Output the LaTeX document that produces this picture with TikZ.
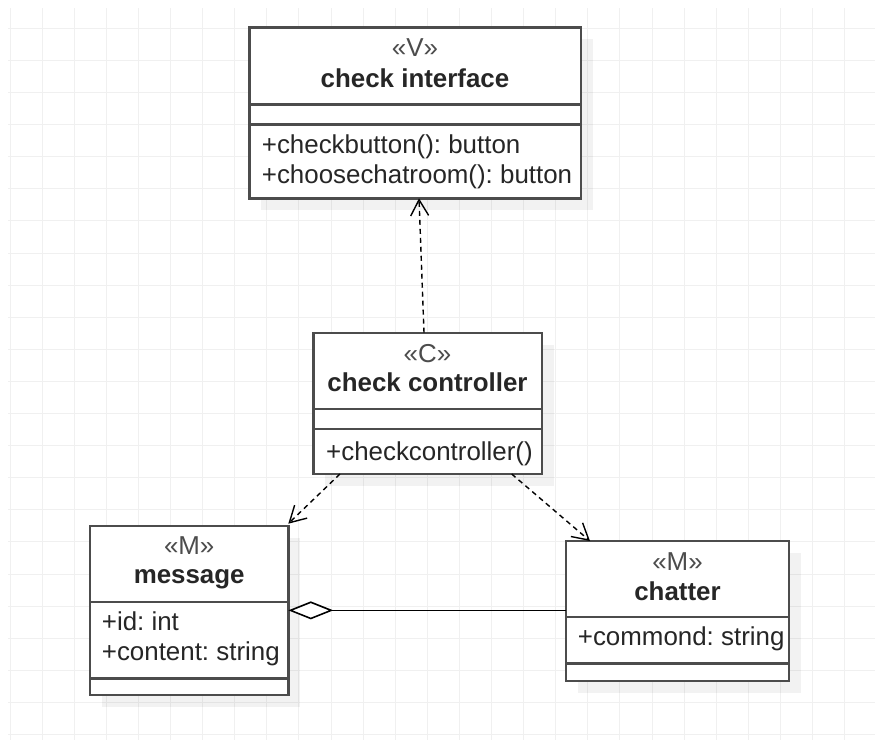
\documentclass[tikz,border=0pt]{standalone}
\usepackage{fontspec}
\setmainfont{Liberation Sans}
\usetikzlibrary{arrows.meta}
\frenchspacing
\begin{document}
\begin{tikzpicture}[x=1pt,y=-1pt,
  gridline/.style={draw=black!6, line width=1pt},
  boxline/.style={draw=black!70, line width=2.4pt},
  umlbox/.style={boxline, fill=white, rectangle, inner sep=0pt, outer sep=0pt, anchor=north west},
  shadowbox/.style={fill=black, opacity=0.05},
  txt/.style={font=\fontsize{25.9}{30}\selectfont\frenchspacing, text=black!85, inner sep=0pt},
  stereo/.style={txt, text=black!70, anchor=base},
  ttl/.style={txt, font=\fontsize{25.9}{30}\selectfont\bfseries, anchor=base},
  attr/.style={txt, anchor=base west},
  depend/.style={draw=black, line width=1.4pt, dash pattern=on 5pt off 4pt, -{Straight Barb[length=16pt,width=18pt,line width=1.4pt]}},
  aggreg/.style={draw=black, line width=1.6pt, -{Diamond[length=45pt,width=18pt,fill=white,line width=1.6pt]}}
]
\useasboundingbox (0,0) rectangle (875,740);
\fill[white] (0,0) rectangle (875,740);
% grid
\foreach \i in {0,...,26} {\draw[gridline] ({10+32.1*\i},8) -- ({10+32.1*\i},740);}
\foreach \k in {0,...,22} {\draw[gridline] (8,{28.3+32.1*\k}) -- (875,{28.3+32.1*\k});}

% shadows
\fill[shadowbox] (261.3,39.3) rectangle (592.7,210.3);
\fill[shadowbox] (325.3,344.7) rectangle (553.7,486);
\fill[shadowbox] (102,537.7) rectangle (300.3,707);
\fill[shadowbox] (578,553) rectangle (801,693);

% boxes
\node[umlbox, minimum width=331.4pt, minimum height=171pt] (top) at (249.3,27.3) {};
\draw[boxline] (top.west |- 0,104.3) -- (top.east |- 0,104.3);
\draw[boxline] (top.west |- 0,124.3) -- (top.east |- 0,124.3);
\node[stereo] (topst) at (415,56) {«V»};
\node[ttl] (topttl) at (415,87.7) {check interface};
\node[attr] (topm1) at (261.7,153.3) {+checkbutton(): button};
\node[attr] (topm2) at (261.7,183.3) {+choosechatroom(): button};

\node[umlbox, minimum width=228.4pt, minimum height=141.3pt] (ctrl) at (313.3,332.7) {};
\draw[boxline] (ctrl.west |- 0,409) -- (ctrl.east |- 0,409);
\draw[boxline] (ctrl.west |- 0,429) -- (ctrl.east |- 0,429);
\node[stereo] (ctrlst) at (427.5,362.7) {«C»};
\node[ttl] (ctrlttl) at (427.5,391.7) {check controller};
\node[attr] (ctrlm1) at (326,460) {+checkcontroller()};

\node[umlbox, minimum width=198.3pt, minimum height=169.3pt] (msg) at (90,525.7) {};
\draw[boxline] (msg.west |- 0,601.7) -- (msg.east |- 0,601.7);
\draw[boxline] (msg.west |- 0,678.3) -- (msg.east |- 0,678.3);
\node[stereo] (msgst) at (189.2,554.3) {«M»};
\node[ttl] (msgttl) at (189.2,583.3) {message};
\node[attr] (msga1) at (101.7,630.7) {+id: int};
\node[attr] (msga2) at (101.7,660) {+content: string};

\node[umlbox, minimum width=223pt, minimum height=140pt] (chat) at (566,541) {};
\draw[boxline] (chat.west |- 0,616.7) -- (chat.east |- 0,616.7);
\draw[boxline] (chat.west |- 0,663.3) -- (chat.east |- 0,663.3);
\node[stereo] (chatst) at (677.5,570) {«M»};
\node[ttl] (chatttl) at (677.5,600) {chatter};
\node[attr] (chata1) at (577.7,645) {+commond: string};

% connectors
\draw[depend] ([xshift=-3.5pt]ctrl.north) -- ([xshift=4pt]top.south);
\draw[depend] ([xshift=-87.5pt]ctrl.south) -- ([yshift=2pt]msg.north east);
\draw[depend] ([xshift=84.2pt]ctrl.south) -- ([xshift=-87.5pt]chat.north);
\draw[aggreg] (chat.west |- msg.east) -- (msg.east);
\end{tikzpicture}
\end{document}
